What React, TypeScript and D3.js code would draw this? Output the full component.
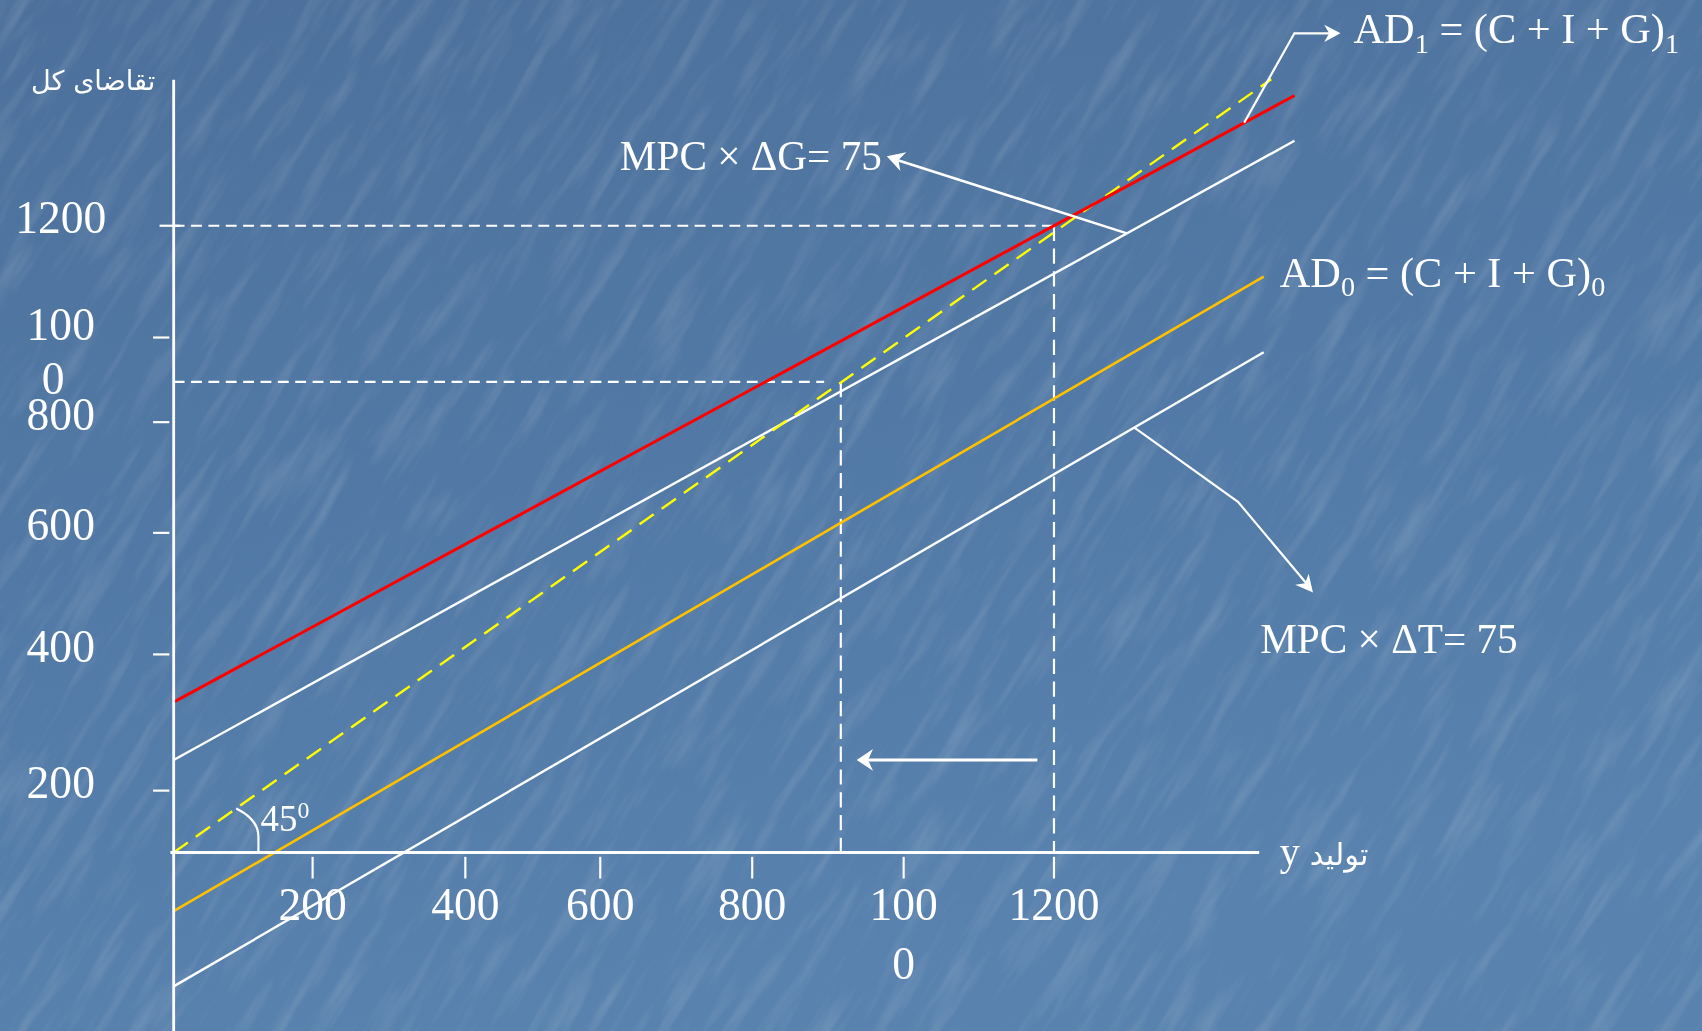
import React from "react";
import * as d3 from "d3";

// ---------------- data ----------------
const scaleKnots = [0, 200, 400, 600, 800, 1000, 1200];
const xTickValues = [200, 400, 600, 800, 1000, 1200];
const yTickValues = [200, 400, 600, 800, 1000, 1200];
const xTickLabelLines = [["200"], ["400"], ["600"], ["800"], ["100", "0"], ["1200"]];
const yTickLabelLines = [["200"], ["400"], ["600"], ["800"], ["100", "0"], ["1200"]];

// straight schedules: [output, aggregate demand] end points
const lineAD1 = [[0, 330], [1520, 1433]];          // red  AD1 = (C+I+G)1
const lineTaxUp = [[0, 245], [1520, 1352]];        // white, AD0 + MPC×ΔG
const line45 = [[0, 0], [1489, 1462]];             // yellow dashed 45°
const lineAD0 = [[0, -190], [1479, 1109]];         // gold AD0
const lineTaxDown = [[0, -433], [1479, 965]];      // white, AD0 − MPC×ΔT

const equilibrium1 = [1200, 1200];
const equilibrium2 = [917, 895];
const shiftArrow = [[1178, 245], [938, 245]];
const axisXMax = 1473;
const axisYMax = 1461;

// ---------------- layout ----------------
const VW = 1568;
const VH = 950;
const xKnotPx = [160, 288, 428.7, 553, 693, 832.5, 971];
const yKnotPx = [785.5, 728.5, 603, 491, 389, 311, 208];

const serif = "'Liberation Serif', 'Times New Roman', 'DejaVu Sans', serif";
const persian = "'DejaVu Sans', 'Noto Sans', sans-serif";

function arrowHead(from: number[], to: number[], len = 16, half = 9) {
  const dx = to[0] - from[0];
  const dy = to[1] - from[1];
  const d = Math.hypot(dx, dy);
  const ux = dx / d, uy = dy / d;
  const bx = to[0] - ux * len, by = to[1] - uy * len;
  const px = -uy * half, py = ux * half;
  return `${to[0]},${to[1]} ${bx + px},${by + py} ${to[0] - ux * len * 0.7},${to[1] - uy * len * 0.7} ${bx - px},${by - py}`;
}

export default function App() {
  const x = d3.scaleLinear().domain(scaleKnots).range(xKnotPx);
  const y = d3.scaleLinear().domain(scaleKnots).range(yKnotPx);
  const line = d3
    .line<number[]>()
    .x((d) => x(d[0]))
    .y((d) => y(d[1]));

  const onLine = (ln: number[][], xv: number) => {
    const p0 = [x(ln[0][0]), y(ln[0][1])];
    const p1 = [x(ln[1][0]), y(ln[1][1])];
    const px = x(xv);
    const t = (px - p0[0]) / (p1[0] - p0[0]);
    return [px, p0[1] + t * (p1[1] - p0[1])];
  };

  const x0 = x(0);
  const y0 = y(0);

  const gAnchor = onLine(lineTaxUp, 1297);
  const gTip = [817, 144];
  const tA = onLine(lineTaxDown, 1307);
  const tMid = [1140.5, 462.4];
  const tTip = [1209.6, 546];
  const adAnchor = onLine(lineAD1, 1453);
  const adElbow = [1192.5, 30.7];
  const adTip = [1235, 30.7];

  const bStart = onLine(line45, 90);
  const bx = x(122);

  const shiftFrom = [x(shiftArrow[0][0]), y(shiftArrow[0][1])];
  const shiftTo = [x(shiftArrow[1][0]), y(shiftArrow[1][1])];

  return (
    <svg
      width={1702}
      height={1031}
      viewBox={`0 0 ${VW} ${VH}`}
      preserveAspectRatio="none"
      style={{ position: "fixed", left: 0, top: 0, display: "block" }}
    >
      <defs>
        <linearGradient id="bg" x1="0" y1="0" x2="0.3" y2="1">
          <stop offset="0" stopColor="#4c709b" />
          <stop offset="0.5" stopColor="#5279a5" />
          <stop offset="1" stopColor="#5982ae" />
        </linearGradient>
        <filter id="tex" x="0" y="0" width="100%" height="100%">
          <feTurbulence type="fractalNoise" baseFrequency="0.01 0.07" numOctaves="3" seed="5" />
          <feColorMatrix
            type="matrix"
            values="0 0 0 0 1  0 0 0 0 1  0 0 0 0 1  2.4 0 0 0 -1.15"
          />
        </filter>
      </defs>
      <rect x={0} y={0} width={VW} height={VH} fill="url(#bg)" />
      <g transform={`rotate(-58 ${VW / 2} ${VH / 2})`} opacity={0.12}>
        <rect x={-600} y={-700} width={VW + 1200} height={VH + 1400} filter="url(#tex)" />
      </g>

      {/* guide dashed lines */}
      <g stroke="#fff" strokeWidth={2} fill="none">
        <line x1={x0} x2={x(equilibrium1[0])} y1={y(equilibrium1[1])} y2={y(equilibrium1[1])} strokeDasharray="10 6" />
        <line x1={x(equilibrium1[0])} x2={x(equilibrium1[0])} y1={y(equilibrium1[1])} y2={y(0)} strokeDasharray="14 7" />
        <line x1={x0} x2={x(equilibrium2[1])} y1={y(equilibrium2[1])} y2={y(equilibrium2[1])} strokeDasharray="10 6" />
        <line x1={x(equilibrium2[0])} x2={x(equilibrium2[0])} y1={y(equilibrium2[1])} y2={y(-20)} strokeDasharray="14 7" />
      </g>

      {/* schedules */}
      <path d={line(lineTaxDown) ?? ""} stroke="#ffffff" strokeWidth={2.2} fill="none" />
      <path d={line(lineAD0) ?? ""} stroke="#ffc000" strokeWidth={2.4} fill="none" />
      <path d={line(lineTaxUp) ?? ""} stroke="#ffffff" strokeWidth={2.2} fill="none" />
      <path d={line(line45) ?? ""} stroke="#ffff00" strokeWidth={2.2} strokeDasharray="16 9" fill="none" />
      <path d={line(lineAD1) ?? ""} stroke="#ff0000" strokeWidth={2.8} fill="none" />

      {/* axes */}
      <line x1={x0} x2={x0} y1={y(axisYMax)} y2={VH} stroke="#fff" strokeWidth={2.6} />
      <line x1={x0 - 3} x2={x(axisXMax)} y1={y0} y2={y0} stroke="#fff" strokeWidth={2.6} />

      {/* x ticks */}
      {xTickValues.map((v, i) => (
        <g key={"xt" + v}>
          <line x1={x(v)} x2={x(v)} y1={y0 + 4} y2={y0 + 24} stroke="#fff" strokeWidth={2} />
          <text x={x(v)} y={848} textAnchor="middle" fill="#fff" fontFamily={serif} fontSize={42}>
            {xTickLabelLines[i].map((s, j) => (
              <tspan key={j} x={x(v)} dy={j === 0 ? 0 : 54}>
                {s}
              </tspan>
            ))}
          </text>
        </g>
      ))}

      {/* y ticks */}
      {yTickValues.map((v, i) => (
        <g key={"yt" + v}>
          <line
            x1={v === 1200 ? x0 - 13 : x0 - 19}
            x2={v === 1200 ? x0 + 6 : x0 - 4}
            y1={y(v)}
            y2={y(v)}
            stroke="#fff"
            strokeWidth={2}
          />
          <text x={58} y={y(v) + 7} textAnchor="middle" fill="#fff" fontFamily={serif} fontSize={42}>
            {yTickLabelLines[i].map((s, j) => (
              <tspan key={j} x={j === 0 ? 56 : 49} dy={j === 0 ? (yTickLabelLines[i].length > 1 ? -5 : 0) : 50}>
                {s}
              </tspan>
            ))}
          </text>
        </g>
      ))}

      {/* axis titles */}
      <text x={143} y={83} textAnchor="end" fill="#fff" fontFamily={persian} fontSize={25}>
        تقاضای کل
      </text>
      <text x={1179} y={797} fill="#fff" fontFamily={serif} fontSize={37} style={{ whiteSpace: "pre" }}>
        y <tspan fontFamily={persian} fontSize={28}>تولید</tspan>
      </text>

      {/* 45 degree mark */}
      <path
        d={`M${bStart[0]},${bStart[1]} Q${bx},${bStart[1] + 10} ${bx},${bStart[1] + 26} L${bx},${y0}`}
        stroke="#fff"
        strokeWidth={2}
        fill="none"
      />
      <text x={bx + 2} y={766} fill="#fff" fontFamily={serif} fontSize={34}>
        45<tspan dy={-12} fontSize={22}>0</tspan>
      </text>

      {/* leftward shift arrow */}
      <line x1={shiftFrom[0]} y1={shiftFrom[1]} x2={shiftTo[0] + 10} y2={shiftTo[1]} stroke="#fff" strokeWidth={2.6} />
      <polygon points={arrowHead(shiftFrom, shiftTo, 15, 10)} fill="#fff" />

      {/* MPC × ΔG annotation */}
      <line x1={gAnchor[0]} y1={gAnchor[1]} x2={gTip[0] + 8} y2={gTip[1] + 3} stroke="#fff" strokeWidth={2.4} />
      <polygon points={arrowHead(gAnchor, gTip, 16, 9)} fill="#fff" />
      <text x={571} y={157} fill="#fff" fontFamily={serif} fontSize={38} style={{ whiteSpace: "pre" }}>
        MPC × ΔG= 75
      </text>

      {/* MPC × ΔT annotation */}
      <polyline
        points={`${tA[0]},${tA[1]} ${tMid[0]},${tMid[1]} ${tTip[0] - 4},${tTip[1] - 6}`}
        stroke="#fff"
        strokeWidth={2}
        fill="none"
      />
      <polygon points={arrowHead(tMid, tTip, 16, 8)} fill="#fff" />
      <text x={1161} y={602} fill="#fff" fontFamily={serif} fontSize={38} style={{ whiteSpace: "pre" }}>
        MPC × ΔT= 75
      </text>

      {/* AD1 label */}
      <polyline
        points={`${adAnchor[0]},${adAnchor[1]} ${adElbow[0]},${adElbow[1]} ${adTip[0] - 8},${adTip[1]}`}
        stroke="#fff"
        strokeWidth={2}
        fill="none"
      />
      <polygon points={arrowHead(adElbow, adTip, 15, 8)} fill="#fff" />
      <text x={1247} y={40} fill="#fff" fontFamily={serif} fontSize={39} style={{ whiteSpace: "pre" }}>
        AD<tspan dy={9} fontSize={26}>1</tspan>
        <tspan dy={-9}> = (C + I + G)</tspan>
        <tspan dy={9} fontSize={26}>1</tspan>
      </text>

      {/* AD0 label */}
      <text x={1179} y={264} fill="#fff" fontFamily={serif} fontSize={39} style={{ whiteSpace: "pre" }}>
        AD<tspan dy={9} fontSize={26}>0</tspan>
        <tspan dy={-9}> = (C + I + G)</tspan>
        <tspan dy={9} fontSize={26}>0</tspan>
      </text>
    </svg>
  );
}
